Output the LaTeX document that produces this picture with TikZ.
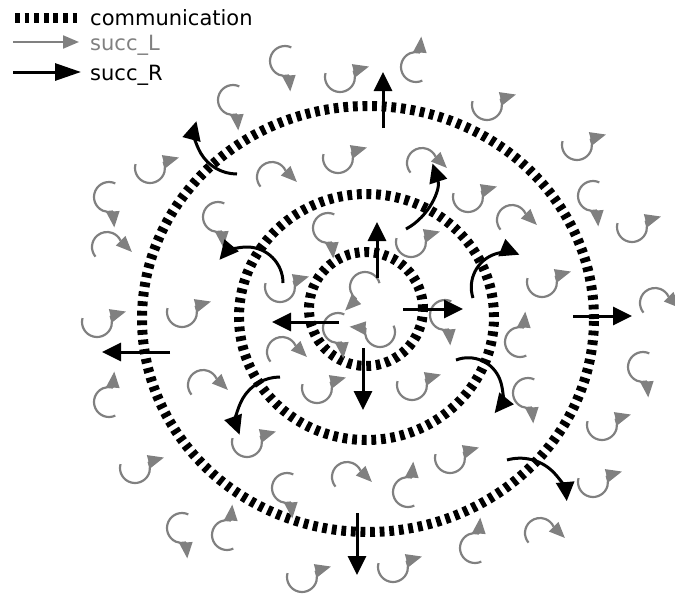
\documentclass[tikz,border=0pt]{standalone}
\usepackage{fontspec}
\setmainfont{DejaVu Sans}
\usetikzlibrary{arrows.meta}
\tikzset{
  comm/.style={line width=10pt, dash pattern=on 4.8pt off 4.8pt},
  succL/.style={draw=gray, line width=2.2pt},
  succR/.style={line width=3pt, -{Triangle[length=19pt,width=18pt]}},
  lbl/.style={anchor=base west, inner sep=0pt, font=\fontsize{21pt}{24pt}\selectfont},
  pics/sl/.style args={#1:#2:#3}{code={
    \draw[succL] (#1:15pt) arc[start angle=#1, end angle=#2, radius=15pt];
    \draw[succL,-{Triangle[length=16pt,width=13pt]}] (#2:15pt) -- ++(#3:16pt);
  }},
}
\begin{document}
\begin{tikzpicture}[x=1pt, y=1pt]
  \useasboundingbox (0,0) rectangle (675,-595);
  % legend
  \draw[comm] (15,-18) -- (79,-18);
  \node[lbl] (lcomm) at (90,-25) {communication};
  \draw[succL,-{Triangle[length=16pt,width=13pt]}] (13,-42) -- (79,-42);
  \node[lbl, text=gray] (lsuccl) at (90,-50) {succ\_L};
  \draw[succR,-{Triangle[length=26pt,width=17pt]}] (13,-72) -- (81,-72);
  \node[lbl] (lsuccr) at (90,-80) {succ\_R};
  % communication rings
  \draw[comm] (366,-309) circle[radius=57pt];
  \draw[comm] (366.5,-317) ellipse[x radius=127.5pt, y radius=123pt];
  \draw[comm] (368,-319) ellipse[x radius=226pt, y radius=213pt];
  % succ_L self loops: C open to the right, arrow at the bottom
  \foreach \x/\y in {285/61, 233/100, 109/197, 218/217, 328/228, 338/328,
      445/315, 593/196, 643/367, 528/393, 287/488, 182/528}
    \pic at (\x,-\y) {sl=65:285:-85};
  % same loop turned up (U)
  \foreach \x/\y in {340/77, 150/168, 338/158, 280/287, 182/312, 97/322,
      487/105, 577/145, 468/197, 632/227, 411/242, 542/282, 412/385,
      602/425, 450/458, 593/482, 393/567, 135/468, 247/442, 302/577, 317/388}
    \pic[rotate=100] at (\x,-\y) {sl=65:285:-85};
  % mirrored loops, arrow at the top
  \foreach \x/\y in {416/67, 520/342, 408/492, 475/548, 109/402, 227/535}
    \pic at (\x,-\y) {sl=-65:-285:85};
  % loops over the top, arrow on the right
  \foreach \x/\y in {272/177, 107/247, 422/163, 512/220, 203/385, 347/477,
      282/352, 540/533, 655/303}
    \pic at (\x,-\y) {sl=-140:-335:-45};
  \pic[rotate=-50] at (365,-287) {sl=65:285:-85};
  \pic[rotate=90] at (380,-332) {sl=-65:-285:85};
  % succ_R, inner ring
  \draw[succR] (377,-278) -- (377,-222);
  \draw[succR] (403,-309) -- (463,-309);
  \draw[succR] (339,-322) -- (272,-322);
  \draw[succR] (363,-348) -- (363,-410);
  % succ_R, middle ring
  \draw[succR] (283,-283) arc[start angle=0, end angle=140, radius=36pt];
  \draw[succR] (406,-229) arc[start angle=-62, end angle=18, radius=55pt];
  \draw[succR] (473,-298) arc[start angle=198, end angle=68, radius=35pt];
  \draw[succR] (456,-360) arc[start angle=111, end angle=-39, radius=34pt];
  \draw[succR] (280,-377) arc[start angle=90, end angle=200, radius=43pt];
  % succ_R, outer ring
  \draw[succR] (383,-128) -- (383,-72);
  \draw[succR] (573,-316) -- (632,-316);
  \draw[succR] (357,-513) -- (357,-575);
  \draw[succR] (170,-352) -- (102,-352);
  \draw[succR] (237,-174) arc[start angle=-90, end angle=-195, radius=42pt];
  \draw[succR] (507,-460) arc[start angle=106, end angle=5, radius=47pt];
\end{tikzpicture}
\end{document}
